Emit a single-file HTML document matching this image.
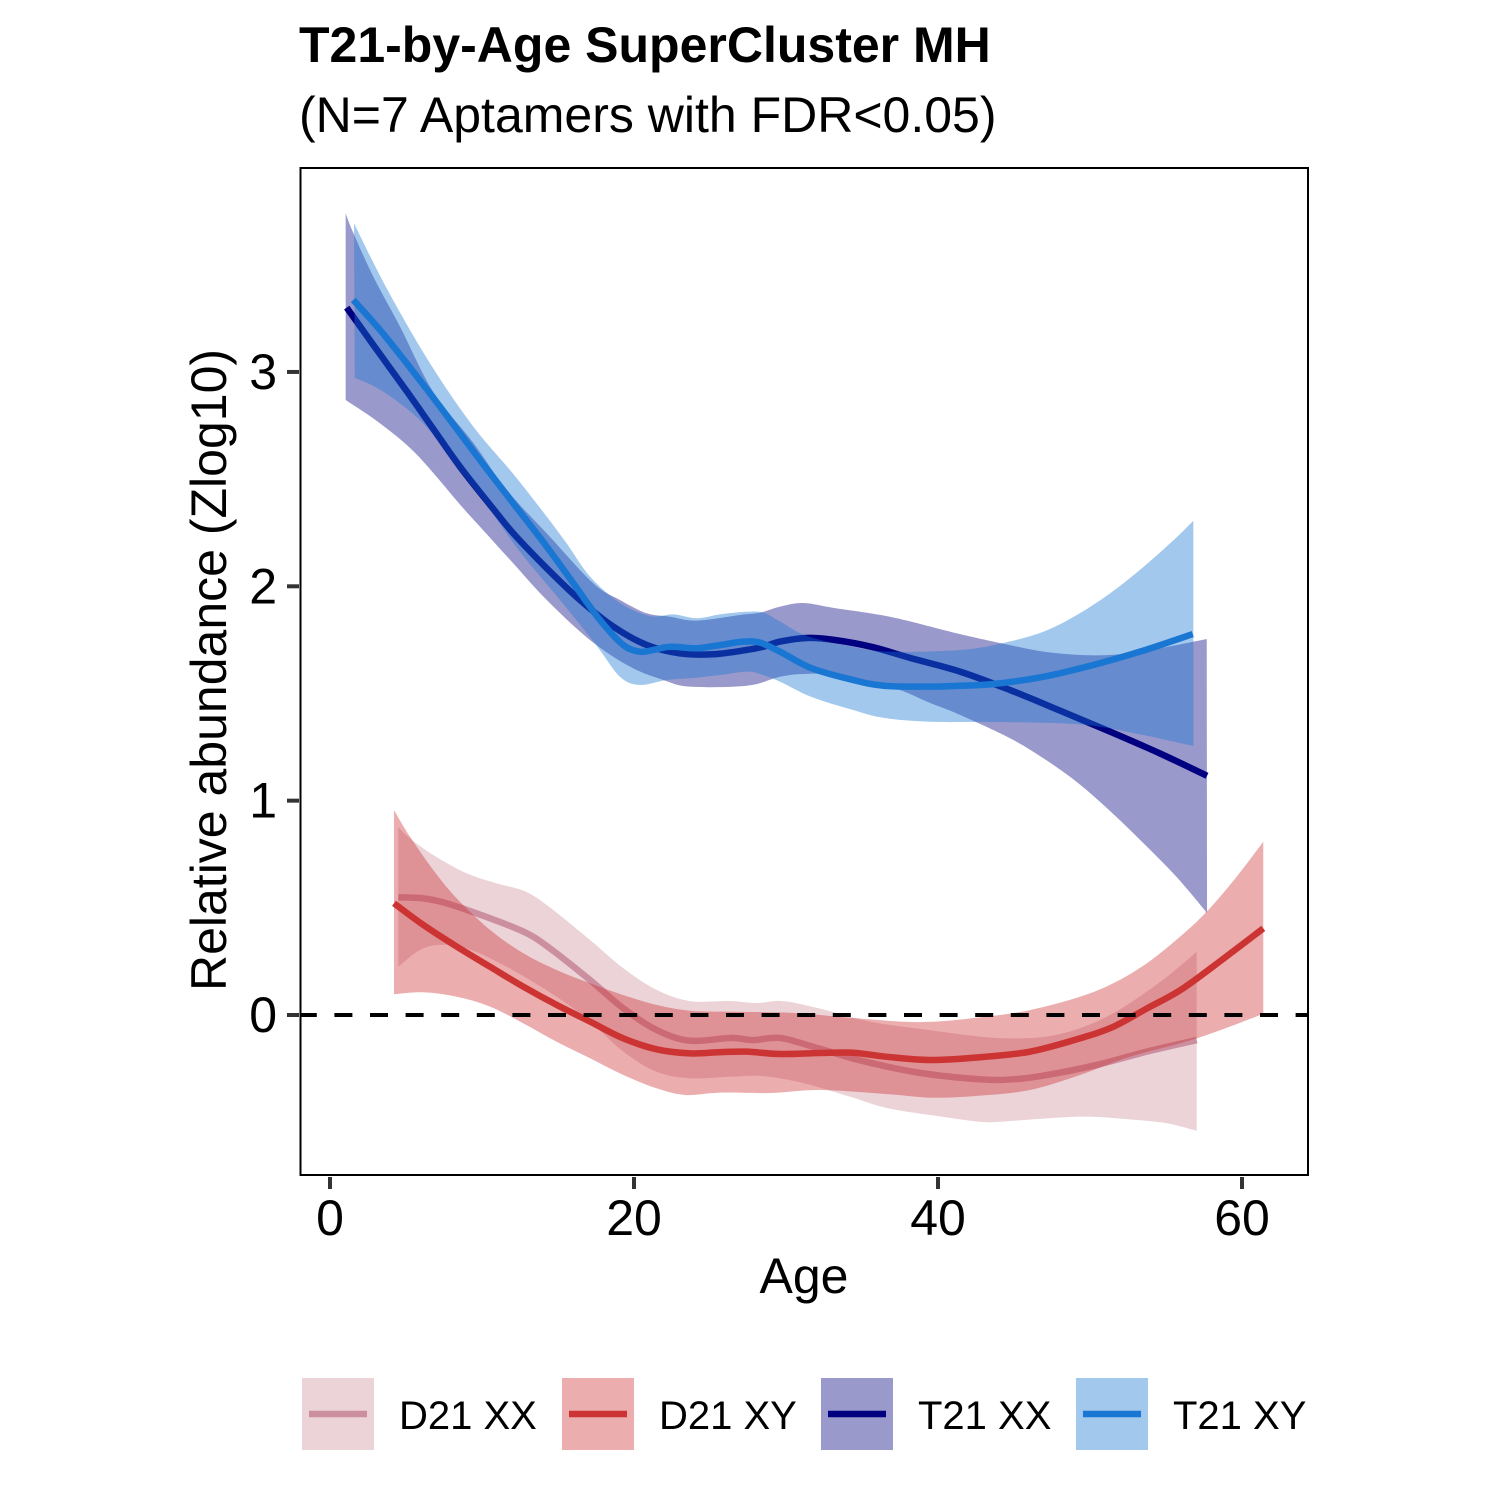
<!DOCTYPE html>
<html lang="en">
<head>
<meta charset="utf-8">
<title>T21-by-Age SuperCluster MH</title>
<style>
html,body{margin:0;padding:0;background:#fff;}
svg{display:block;}
text{font-family:"Liberation Sans",Arial,sans-serif;fill:#000;}
</style>
</head>
<body>
<svg id="chart" xmlns="http://www.w3.org/2000/svg" width="1500" height="1500" viewBox="0 0 1500 1500">
  <rect x="0" y="0" width="1500" height="1500" fill="#fff"/>
  <text x="299" y="62" font-size="50" font-weight="700">T21-by-Age SuperCluster MH</text>
  <text x="299" y="132" font-size="50">(N=7 Aptamers with FDR&lt;0.05)</text>
  <g id="series-layer"></g>
  <line id="zero-line" stroke="#000" stroke-width="4" stroke-dasharray="18 17.6" stroke-dashoffset="2.2"/>
  <rect x="300.5" y="168" width="1007.5" height="1007" fill="none" stroke="#000" stroke-width="2"/>
  <g id="axis-layer"></g>
  <text x="804" y="1293" font-size="50" text-anchor="middle">Age</text>
  <text x="226" y="670" font-size="50" text-anchor="middle" transform="rotate(-90 226 670)">Relative abundance (Zlog10)</text>
  <g>
    <g>
      <rect x="302" y="1378" width="72" height="72" fill="#ebd3d8"/>
      <line x1="309" x2="367" y1="1414" y2="1414" stroke="#cc8fa0" stroke-width="6.5"/>
      <text x="399" y="1429" font-size="40">D21 XX</text>
    </g>
    <g>
      <rect x="562" y="1378" width="72" height="72" fill="#ebadad"/>
      <line x1="569" x2="627" y1="1414" y2="1414" stroke="#cc3333" stroke-width="6.5"/>
      <text x="659" y="1429" font-size="40">D21 XY</text>
    </g>
    <g>
      <rect x="821" y="1378" width="72" height="72" fill="#9999cc"/>
      <line x1="828" x2="886" y1="1414" y2="1414" stroke="#000080" stroke-width="6.5"/>
      <text x="918" y="1429" font-size="40">T21 XX</text>
    </g>
    <g>
      <rect x="1076" y="1378" width="72" height="72" fill="#a3c8ed"/>
      <line x1="1083" x2="1141" y1="1414" y2="1414" stroke="#1976d2" stroke-width="6.5"/>
      <text x="1173" y="1429" font-size="40">T21 XY</text>
    </g>
  </g>
</svg>
<script>
const xTickValues = [0, 20, 40, 60];
const yTickValues = [0, 1, 2, 3];
const referenceValue = 0;

const d21xxLineAge = [4.49,6.14,7.68,9.65,12.72,14.47,17.11,19.3,21.49,23.68,26.32,27.83,29.61,31.78,35.07,38.82,42.76,44.95,47.15,50.44,53.73,57.02];
const d21xxLineVal = [0.549,0.544,0.521,0.474,0.389,0.311,0.163,0.031,-0.07,-0.12,-0.107,-0.117,-0.107,-0.148,-0.215,-0.27,-0.3,-0.3,-0.28,-0.233,-0.171,-0.117];
const d21xxUpperAge = [4.49,5.26,6.8,8.99,10.97,12.72,14.26,17.11,19.3,21.49,23.68,26.32,28.09,29.8,32.04,35.53,38.82,42.76,44.95,47.15,49.34,51.53,53.73,55.48,57.02];
const d21xxUpperVal = [0.876,0.824,0.746,0.661,0.614,0.58,0.513,0.35,0.218,0.117,0.065,0.065,0.056,0.065,0.033,-0.031,-0.065,-0.101,-0.109,-0.101,-0.062,0.008,0.109,0.202,0.295];
const d21xxLowerAge = [4.49,5.92,7.24,8.99,11.63,14.91,17.11,19.3,21.49,23.68,26.32,28.49,31.12,34.21,36.64,39.93,42.76,44.08,47.15,49.78,52.63,55.05,57.02];
const d21xxLowerVal = [0.225,0.303,0.327,0.311,0.225,0.085,-0.031,-0.171,-0.265,-0.295,-0.288,-0.285,-0.317,-0.381,-0.434,-0.471,-0.498,-0.498,-0.482,-0.474,-0.487,-0.505,-0.54];

const d21xyLineAge = [4.21,6.14,8.34,10.53,12.72,14.91,17.11,19.3,21.49,23.68,25.66,27.41,29.61,32.24,34.41,36.64,39.47,42.76,46.05,49.34,51.53,53.73,55.92,58.11,61.4];
const d21xyLineVal = [0.521,0.42,0.319,0.225,0.132,0.047,-0.031,-0.109,-0.16,-0.179,-0.173,-0.171,-0.182,-0.177,-0.176,-0.195,-0.21,-0.197,-0.171,-0.109,-0.055,0.03,0.115,0.227,0.404];
const d21xyUpperAge = [4.21,5.26,6.8,8.34,10.53,12.72,14.91,17.11,19.3,21.49,23.68,26.78,30.07,32.24,34.41,38.82,42.76,46.05,49.34,51.53,53.73,55.92,57.68,59.65,61.4];
const d21xyUpperVal = [0.956,0.832,0.676,0.544,0.397,0.288,0.21,0.148,0.093,0.047,0.02,0.015,0.011,0,-0.014,-0.033,-0.011,0.023,0.085,0.148,0.241,0.365,0.482,0.645,0.808];
const d21xyLowerAge = [4.21,6.14,8.34,10.53,12.72,14.91,17.11,19.3,21.49,23.36,25.66,28.95,32.24,36.64,39.67,42.76,46.05,49.34,52.63,57.02,61.4];
const d21xyLowerVal = [0.097,0.106,0.085,0.039,-0.039,-0.125,-0.202,-0.28,-0.342,-0.373,-0.362,-0.364,-0.35,-0.369,-0.386,-0.376,-0.35,-0.28,-0.195,-0.109,0.005];

const t21xxLineAge = [1.1,2.85,5.13,6.69,8.55,10.53,12.06,14.26,16.45,18.64,20.84,23.03,25.22,27.41,28.51,29.61,31.38,33.16,35.66,38.16,41.45,44.74,48.03,51.32,54.61,57.7];
const t21xxLineVal = [3.3,3.126,2.902,2.745,2.558,2.38,2.247,2.084,1.936,1.812,1.726,1.687,1.683,1.703,1.718,1.742,1.759,1.75,1.717,1.666,1.602,1.516,1.42,1.322,1.22,1.116];
const t21xxUpperAge = [1.03,1.51,2.85,4.61,6.78,9.43,11.63,14.26,17.32,19.08,20.84,22.37,24.13,26.97,28.29,29.61,31.12,33.16,36.91,41.45,44.19,46.93,49.56,51.97,54.61,57.68];
const t21xxUpperVal = [3.74,3.653,3.444,3.211,2.908,2.669,2.449,2.247,2.014,1.936,1.874,1.858,1.84,1.866,1.877,1.905,1.922,1.899,1.857,1.777,1.734,1.695,1.679,1.683,1.711,1.754];
const t21xxLowerAge = [1.03,3.29,5.7,8.77,9.87,12.06,14.26,17.11,19.74,21.93,23.68,27.41,29.61,31.12,33.16,36.91,39.47,41.45,44.74,46.93,49.13,51.32,53.51,55.7,57.7];
const t21xxLowerVal = [2.869,2.76,2.615,2.364,2.278,2.107,1.936,1.749,1.625,1.563,1.532,1.536,1.578,1.591,1.586,1.53,1.456,1.4,1.291,1.198,1.087,0.952,0.802,0.644,0.476];

const t21xyLineAge = [1.53,3.29,5.05,7.24,9.87,12.06,14.26,16.01,17.76,19.3,20.39,21.27,22.37,24.13,25.66,27.19,28.29,29.61,31.64,34.41,36.45,39.47,41.45,43.64,46.93,50.22,53.51,56.76];
const t21xyLineVal = [3.336,3.196,3.04,2.838,2.589,2.387,2.185,2.014,1.843,1.726,1.695,1.703,1.718,1.711,1.726,1.742,1.737,1.695,1.619,1.563,1.536,1.532,1.536,1.544,1.578,1.633,1.7,1.777];
const t21xyUpperAge = [1.58,3.73,6.58,9.43,12.06,14.26,15.57,17.11,19.08,21.05,22.59,24.13,25.66,27.41,28.51,29.61,31.38,34.41,36.91,41.45,44.19,46.93,49.13,51.32,53.51,55.48,56.8];
const t21xyUpperVal = [3.693,3.39,3.04,2.745,2.524,2.325,2.2,2.045,1.922,1.861,1.869,1.851,1.869,1.881,1.877,1.835,1.768,1.717,1.695,1.703,1.734,1.788,1.866,1.967,2.09,2.214,2.306];
const t21xyLowerAge = [1.63,3.51,6.14,8.22,10.53,12.5,15.13,17.43,19.08,20.39,22.15,23.88,25.66,27.41,28.29,29.61,31.64,34.41,36.45,39.47,43.62,48.03,50.66,53.51,56.8];
const t21xyLowerVal = [2.973,2.908,2.76,2.566,2.356,2.161,1.936,1.734,1.578,1.54,1.563,1.572,1.586,1.602,1.591,1.555,1.485,1.423,1.386,1.368,1.367,1.361,1.345,1.306,1.255];

function xScale(age) { return 330 + age * 15.2; }
function yScale(val) { return 1015 - val * 214.35; }

function toPoints(ages, vals) {
  return ages.map(function (a, i) { return [xScale(a), yScale(vals[i])]; });
}

function splineSegments(p) {
  let d = '';
  for (let i = 0; i < p.length - 1; i++) {
    const p0 = p[Math.max(i - 1, 0)];
    const p1 = p[i];
    const p2 = p[i + 1];
    const p3 = p[Math.min(i + 2, p.length - 1)];
    const c1x = p1[0] + (p2[0] - p0[0]) / 6;
    const c1y = p1[1] + (p2[1] - p0[1]) / 6;
    const c2x = p2[0] - (p3[0] - p1[0]) / 6;
    const c2y = p2[1] - (p3[1] - p1[1]) / 6;
    d += 'C' + c1x.toFixed(2) + ' ' + c1y.toFixed(2) + ' ' + c2x.toFixed(2) + ' ' + c2y.toFixed(2) + ' ' + p2[0].toFixed(2) + ' ' + p2[1].toFixed(2);
  }
  return d;
}

function linePath(p) {
  return 'M' + p[0][0].toFixed(2) + ' ' + p[0][1].toFixed(2) + splineSegments(p);
}

function ribbonPath(upper, lower) {
  const rev = lower.slice().reverse();
  return linePath(upper) + 'L' + rev[0][0].toFixed(2) + ' ' + rev[0][1].toFixed(2) + splineSegments(rev) + 'Z';
}

const NS = 'http://www.w3.org/2000/svg';
const seriesLayer = document.getElementById('series-layer');
const axisLayer = document.getElementById('axis-layer');

function drawSeries(key, fill, stroke, lineAge, lineVal, upAge, upVal, loAge, loVal) {
  const ribbon = document.createElementNS(NS, 'path');
  ribbon.setAttribute('d', ribbonPath(toPoints(upAge, upVal), toPoints(loAge, loVal)));
  ribbon.setAttribute('fill', fill);
  ribbon.setAttribute('fill-opacity', '0.4');
  
  
  seriesLayer.appendChild(ribbon);

  const line = document.createElementNS(NS, 'path');
  line.setAttribute('d', linePath(toPoints(lineAge, lineVal)));
  line.setAttribute('fill', 'none');
  line.setAttribute('stroke', stroke);
  line.setAttribute('stroke-width', '6.5');
  line.setAttribute('stroke-linejoin', 'round');
  
  
  seriesLayer.appendChild(line);
}

drawSeries('d21-xx', '#cc919d', '#cc8fa0', d21xxLineAge, d21xxLineVal, d21xxUpperAge, d21xxUpperVal, d21xxLowerAge, d21xxLowerVal);
drawSeries('d21-xy', '#cc3333', '#cc3333', d21xyLineAge, d21xyLineVal, d21xyUpperAge, d21xyUpperVal, d21xyLowerAge, d21xyLowerVal);
drawSeries('t21-xx', '#000080', '#000080', t21xxLineAge, t21xxLineVal, t21xxUpperAge, t21xxUpperVal, t21xxLowerAge, t21xxLowerVal);
drawSeries('t21-xy', '#1976d2', '#1976d2', t21xyLineAge, t21xyLineVal, t21xyUpperAge, t21xyUpperVal, t21xyLowerAge, t21xyLowerVal);

const zero = document.getElementById('zero-line');
zero.setAttribute('x1', '301');
zero.setAttribute('x2', '1307');
zero.setAttribute('y1', yScale(referenceValue));
zero.setAttribute('y2', yScale(referenceValue));

xTickValues.forEach(function (v) {
  const tick = document.createElementNS(NS, 'line');
  tick.setAttribute('x1', xScale(v));
  tick.setAttribute('x2', xScale(v));
  tick.setAttribute('y1', 1177);
  tick.setAttribute('y2', 1189);
  tick.setAttribute('stroke', '#333');
  tick.setAttribute('stroke-width', '4');
  
  
  axisLayer.appendChild(tick);

  const label = document.createElementNS(NS, 'text');
  label.setAttribute('x', xScale(v));
  label.setAttribute('y', 1235);
  label.setAttribute('font-size', '50');
  label.setAttribute('text-anchor', 'middle');
  label.textContent = v;
  
  
  axisLayer.appendChild(label);
});

yTickValues.forEach(function (v) {
  const tick = document.createElementNS(NS, 'line');
  tick.setAttribute('x1', 287);
  tick.setAttribute('x2', 299);
  tick.setAttribute('y1', yScale(v));
  tick.setAttribute('y2', yScale(v));
  tick.setAttribute('stroke', '#333');
  tick.setAttribute('stroke-width', '4');
  
  
  axisLayer.appendChild(tick);

  const label = document.createElementNS(NS, 'text');
  label.setAttribute('x', 277);
  label.setAttribute('y', yScale(v) + 17);
  label.setAttribute('font-size', '50');
  label.setAttribute('text-anchor', 'end');
  label.textContent = v;
  
  
  axisLayer.appendChild(label);
});
</script>
</body>
</html>
